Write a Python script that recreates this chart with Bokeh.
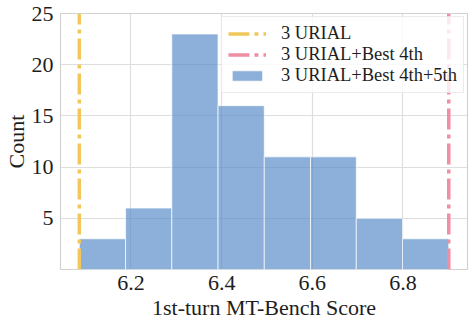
from bokeh.plotting import figure
from bokeh.models import Range1d, FixedTicker, Legend, LegendItem, ColumnDataSource
from bokeh.embed import file_html
from bokeh.resources import INLINE

# ---- data ----
bin_left = [6.086, 6.188, 6.290, 6.392, 6.494, 6.596, 6.697, 6.799]
bin_right = [6.188, 6.290, 6.392, 6.494, 6.596, 6.697, 6.799, 6.901]
counts = [3, 6, 23, 16, 11, 11, 5, 3]
urial3_score = 6.086
urial3_best4_score = 6.901
x_ticks = [6.2, 6.4, 6.6, 6.8]
y_ticks = [5, 10, 15, 20, 25]
series_labels = ["3 URIAL", "3 URIAL+Best 4th", "3 URIAL+Best 4th+5th"]
x_label = "1st-turn MT-Bench Score"
y_label = "Count"

X_MIN, X_MAX = 6.0445, 6.9423
Y_MIN, Y_MAX = 0, 25

FONT = "Liberation Serif"
TEXT = "#1e1e1e"
GRID = "#dedede"

p = figure(width=470, height=322, output_backend="svg", toolbar_location=None,
           x_range=Range1d(X_MIN, X_MAX), y_range=Range1d(Y_MIN, Y_MAX),
           min_border_left=57, min_border_right=3, min_border_top=13, min_border_bottom=51)

p.background_fill_color = "white"
p.border_fill_color = "white"
p.outline_line_color = "#d2d2d2"
p.outline_line_width = 1.2

src = ColumnDataSource(dict(left=bin_left, right=bin_right, top=counts, bottom=[0] * len(counts)))
bars = p.quad(left="left", right="right", top="top", bottom="bottom", source=src,
              fill_color="#4f86c6", fill_alpha=0.65, line_color="white", line_alpha=0.7, line_width=1)

l1 = p.line(x=[urial3_score, urial3_score], y=[Y_MIN, Y_MAX], line_color="#f1c75c",
            line_width=3.5, line_dash="21 5 4 5")
l2 = p.line(x=[urial3_best4_score, urial3_best4_score], y=[Y_MIN, Y_MAX], line_color="#ee8fa3",
            line_width=3.5, line_dash="21 5 4 5")

for ax in (p.xaxis, p.yaxis):
    ax.axis_line_color = None
    ax.major_tick_line_color = None
    ax.minor_tick_line_color = None
    ax.major_tick_out = 0
    ax.major_tick_in = 0
    ax.major_label_text_font = FONT
    ax.major_label_text_font_size = "22px"
    ax.major_label_text_color = TEXT
    ax.axis_label_text_font = FONT
    ax.axis_label_text_font_size = "22px"
    ax.axis_label_text_color = TEXT
    ax.axis_label_text_font_style = "normal"

p.xaxis.ticker = FixedTicker(ticks=x_ticks)
p.yaxis.ticker = FixedTicker(ticks=y_ticks)
p.xaxis.axis_label = x_label
p.yaxis.axis_label = y_label
p.xaxis.major_label_standoff = 6
p.yaxis.major_label_standoff = 7
p.xaxis.axis_label_standoff = 2
p.yaxis.axis_label_standoff = 0

p.xgrid.ticker = FixedTicker(ticks=x_ticks)
p.ygrid.ticker = FixedTicker(ticks=y_ticks)
p.grid.grid_line_color = GRID
p.grid.grid_line_width = 1.2

legend = Legend(items=[LegendItem(label=series_labels[0], renderers=[l1]),
                       LegendItem(label=series_labels[1], renderers=[l2]),
                       LegendItem(label=series_labels[2], renderers=[bars])],
                location="top_right", margin=3)
legend.label_text_font = FONT
legend.label_text_font_size = "18.5px"
legend.label_text_color = TEXT
legend.label_height = 19
legend.glyph_height = 13
legend.glyph_width = 38
legend.label_standoff = 15
legend.spacing = -3
legend.padding = 6
legend.border_line_color = "#d8d8d8"
legend.border_line_width = 1
legend.background_fill_color = "white"
legend.background_fill_alpha = 0.8
p.add_layout(legend)

open("out.html", "w").write(file_html(p, INLINE))
